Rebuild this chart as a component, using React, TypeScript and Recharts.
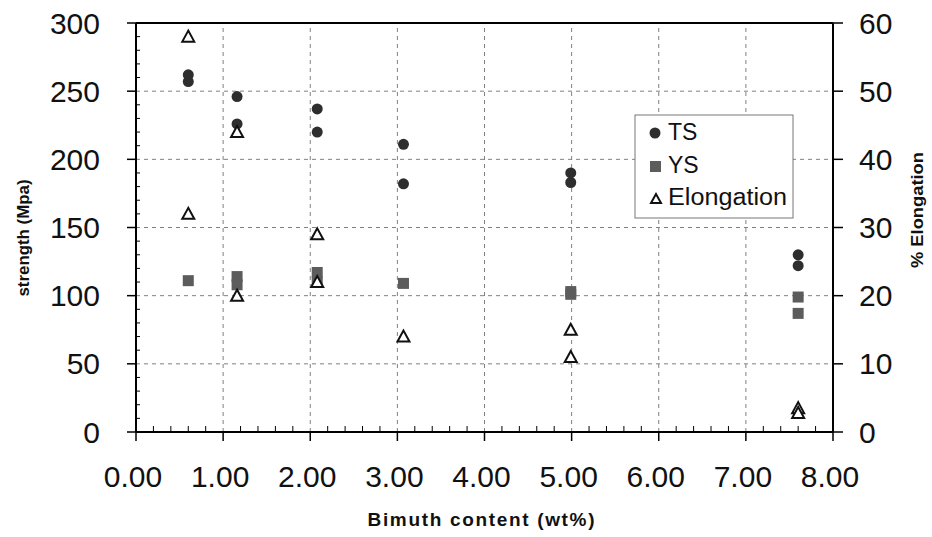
import React from 'react';
import { ScatterChart, Scatter, XAxis, YAxis, ReferenceLine } from 'recharts';

// bismuth content (wt%) for each measured point
const tsContent = [0.6, 0.6, 1.16, 1.16, 2.08, 2.08, 3.07, 3.07, 4.99, 4.99, 7.6, 7.6];
const tsStrength = [262, 257, 246, 226, 237, 220, 211, 182, 190, 183, 130, 122];

const ysContent = [0.6, 1.16, 1.16, 2.08, 2.08, 3.07, 4.99, 4.99, 7.6, 7.6];
const ysStrength = [111, 114, 108, 117, 110, 109, 103, 101, 99, 87];

const elongContent = [0.6, 0.6, 1.16, 1.16, 2.08, 2.08, 3.07, 4.99, 4.99, 7.6, 7.6];
const elongPercent = [58, 32, 44, 20, 29, 22, 14, 15, 11, 3.5, 2.8];

const xMajorTicks = [0, 1, 2, 3, 4, 5, 6, 7, 8];
const leftMajorTicks = [0, 50, 100, 150, 200, 250, 300];
const rightTicks = [0, 10, 20, 30, 40, 50, 60];

const xMinorTicks = Array.from({ length: 41 }, (_, i) => Math.round(i * 2) / 10);
const leftMinorTicks = Array.from({ length: 31 }, (_, i) => i * 10);

const tsData = tsContent.map((x, i) => ({ x, y: tsStrength[i] }));
const ysData = ysContent.map((x, i) => ({ x, y: ysStrength[i] }));
const elongData = elongContent.map((x, i) => ({ x, y: elongPercent[i] }));

const FONT = '"Liberation Sans", Arial, sans-serif';
const GRID = '#808080';

const isWhole = (v: number) => Math.abs(v - Math.round(v)) < 1e-6;

const XTick = ({ x, y, payload }: any) => {
  const v = payload.value;
  if (isWhole(v)) {
    return (
      <g>
        <line x1={x} y1={y} x2={x} y2={y + 9} stroke="#000" strokeWidth={1.5} />
        <text x={x - 3} y={y + 44} textAnchor="middle" dominantBaseline="central" fontSize={30} fontFamily={FONT} fill="#111">
          {v.toFixed(2)}
        </text>
      </g>
    );
  }
  return <line x1={x} y1={y} x2={x} y2={y - 6} stroke="#000" strokeWidth={1} />;
};

const LeftTick = ({ x, y, payload }: any) => {
  const v = payload.value;
  if (v % 50 === 0) {
    return (
      <g>
        <line x1={x - 9} y1={y} x2={x} y2={y} stroke="#000" strokeWidth={1.5} />
        <text x={x - 36} y={y} textAnchor="end" dominantBaseline="central" fontSize={30} fontFamily={FONT} fill="#111">
          {v}
        </text>
      </g>
    );
  }
  return <line x1={x} y1={y} x2={x + 4} y2={y} stroke="#000" strokeWidth={1} />;
};

const RightTick = ({ x, y, payload }: any) => (
  <g>
    <line x1={x} y1={y} x2={x + 10} y2={y} stroke="#000" strokeWidth={1.5} />
    <text x={x + 26} y={y} textAnchor="start" dominantBaseline="central" fontSize={30} fontFamily={FONT} fill="#111">
      {payload.value}
    </text>
  </g>
);

const Dot = ({ cx, cy }: any) => <circle cx={cx} cy={cy} r={5.5} fill="#2e2e2e" />;
const Sq = ({ cx, cy }: any) => <rect x={cx - 5.5} y={cy - 5.5} width={11} height={11} fill="#5c5c5c" />;
const Tri = ({ cx, cy }: any) => (
  <polygon
    points={`${cx},${cy - 6} ${cx - 6},${cy + 5} ${cx + 6},${cy + 5}`}
    fill="#fff"
    stroke="#111"
    strokeWidth={2}
  />
);

export default function App() {
  return (
    <div style={{ position: 'fixed', left: 0, top: 0, width: 932, height: 537, background: '#fff' }}>
      <ScatterChart width={932} height={537} margin={{ top: 23, right: 0, bottom: 0, left: 0 }}>
        <XAxis
          type="number"
          dataKey="x"
          domain={[0, 8]}
          ticks={xMinorTicks}
          interval={0}
          height={105}
          tickSize={0}
          tickMargin={0}
          tickLine={false}
          tick={<XTick />}
          axisLine={{ stroke: '#000', strokeWidth: 2 }}
        />
        <YAxis
          yAxisId="left"
          type="number"
          dataKey="y"
          domain={[0, 300]}
          ticks={leftMinorTicks}
          interval={0}
          width={136}
          tickSize={0}
          tickMargin={0}
          tickLine={false}
          tick={<LeftTick />}
          axisLine={{ stroke: '#000', strokeWidth: 2 }}
        />
        <YAxis
          yAxisId="right"
          orientation="right"
          type="number"
          dataKey="y"
          domain={[0, 60]}
          ticks={rightTicks}
          interval={0}
          width={99}
          tickSize={0}
          tickMargin={0}
          tickLine={false}
          tick={<RightTick />}
          axisLine={{ stroke: '#000', strokeWidth: 2 }}
        />
        {xMajorTicks.slice(1, -1).map((v) => (
          <ReferenceLine key={`vx-${v}`} x={v} yAxisId="left" stroke={GRID} strokeDasharray="4 4" />
        ))}
        {leftMajorTicks.slice(1, -1).map((v) => (
          <ReferenceLine key={`hy-${v}`} y={v} yAxisId="left" stroke={GRID} strokeDasharray="4 4" />
        ))}
        <ReferenceLine y={300} yAxisId="left" stroke="#000" strokeWidth={2} />
        <Scatter name="TS" data={tsData} yAxisId="left" shape={<Dot />} isAnimationActive={false} />
        <Scatter name="YS" data={ysData} yAxisId="left" shape={<Sq />} isAnimationActive={false} />
        <Scatter name="Elongation" data={elongData} yAxisId="right" shape={<Tri />} isAnimationActive={false} />
      </ScatterChart>
      <svg
        width={932}
        height={537}
        style={{ position: 'absolute', left: 0, top: 0, pointerEvents: 'none' }}
        fontFamily={FONT}
      >
        <g>
          <rect x={635} y={115} width={158} height={103} fill="#fff" stroke="#777" strokeWidth={1} />
          <circle cx={655} cy={133} r={5.5} fill="#2e2e2e" />
          <text x={668} y={132} dominantBaseline="central" fontSize={23} fill="#111">TS</text>
          <rect x={650} y={161} width={11} height={11} fill="#5c5c5c" />
          <text x={668} y={165} dominantBaseline="central" fontSize={23} fill="#111">YS</text>
          <polygon points="656,194 651,203 661,203" fill="#fff" stroke="#111" strokeWidth={2} />
          <text x={668} y={197} dominantBaseline="central" fontSize={23} fill="#111" textLength={119} lengthAdjust="spacingAndGlyphs">
            Elongation
          </text>
        </g>
        <text
          x={481}
          y={519}
          textAnchor="middle"
          dominantBaseline="central"
          fontSize={19}
          fontWeight="bold"
          fill="#111"
          textLength={227}
          lengthAdjust="spacing"
        >
          Bimuth content (wt%)
        </text>
        <text
          transform="translate(23,238) rotate(-90)"
          textAnchor="middle"
          dominantBaseline="central"
          fontSize={17}
          fontWeight="bold"
          fill="#111"
          textLength={117}
          lengthAdjust="spacingAndGlyphs"
        >
          strength (Mpa)
        </text>
        <text
          transform="translate(917,210) rotate(-90)"
          textAnchor="middle"
          dominantBaseline="central"
          fontSize={17}
          fontWeight="bold"
          fill="#111"
          textLength={116}
          lengthAdjust="spacingAndGlyphs"
        >
          % Elongation
        </text>
      </svg>
    </div>
  );
}
